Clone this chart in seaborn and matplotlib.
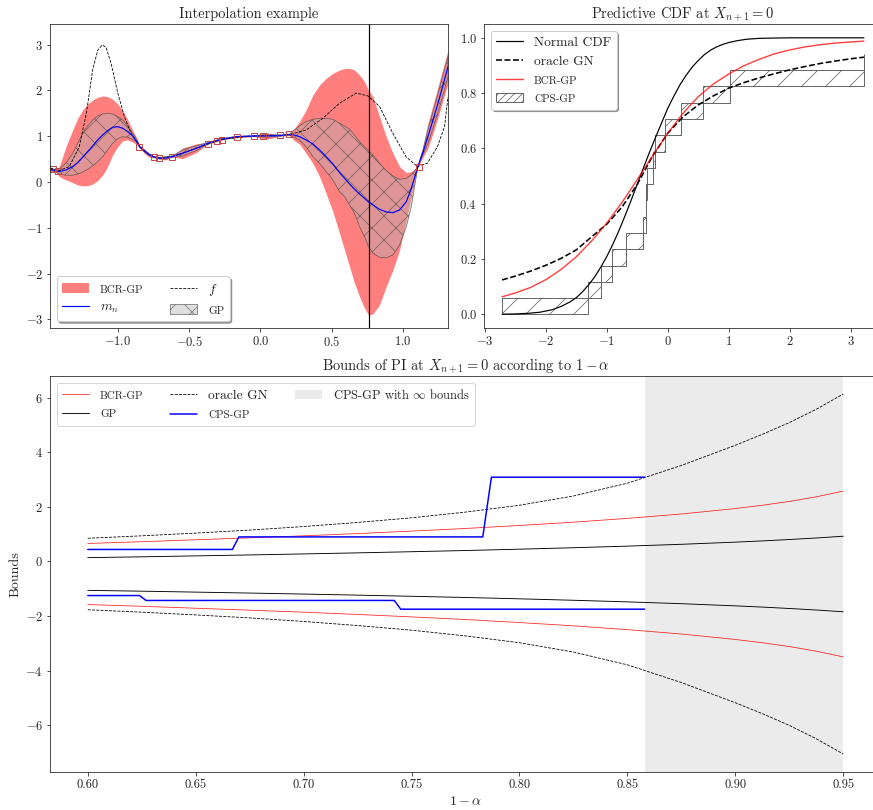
import seaborn as sns
import matplotlib.pyplot as plt
from matplotlib.lines import Line2D
from matplotlib.patches import Patch

# ---------------- top left: interpolation example ----------------
grid_x = [-1.475, -1.438, -1.410, -1.363, -1.316, -1.281, -1.246, -1.211, -1.176,
          -1.141, -1.106, -1.071, -1.036, -1.000, -0.965, -0.930, -0.895, -0.867,
          -0.844, -0.814, -0.778, -0.743, -0.708, -0.662, -0.619, -0.545, -0.451,
          -0.369, -0.276, -0.164, -0.042, 0.040, 0.138, 0.199, 0.238, 0.273, 0.320,
          0.367, 0.414, 0.460, 0.507, 0.554, 0.589, 0.624, 0.659, 0.694, 0.729,
          0.757, 0.788, 0.834, 0.881, 0.928, 0.975, 1.022, 1.057, 1.103, 1.138,
          1.173, 1.209, 1.244, 1.279, 1.314]
mean_n = [0.277, 0.247, 0.226, 0.262, 0.335, 0.422, 0.539, 0.662, 0.786,
          0.917, 1.026, 1.121, 1.194, 1.208, 1.172, 1.099, 1.004, 0.880,
          0.760, 0.677, 0.590, 0.539, 0.517, 0.524, 0.553, 0.626, 0.735,
          0.844, 0.932, 0.990, 1.004, 1.004, 1.012, 1.033, 1.026, 0.990, 0.917,
          0.830, 0.699, 0.553, 0.393, 0.204, 0.080, -0.044, -0.160, -0.262, -0.357,
          -0.437, -0.502, -0.597, -0.655, -0.670, -0.611, -0.429, -0.138, 0.335, 0.640,
          0.990, 1.354, 1.718, 2.118, 2.518]
gp_hi = [0.298, 0.269, 0.284, 0.408, 0.626, 0.844, 1.063, 1.223, 1.354,
         1.441, 1.485, 1.499, 1.485, 1.426, 1.354, 1.223, 1.063, 0.932,
         0.770, 0.699, 0.611, 0.546, 0.531, 0.553, 0.568, 0.699, 0.793,
         0.859, 0.946, 0.997, 1.012, 1.033, 1.019, 1.041, 1.135, 1.223, 1.317,
         1.368, 1.390, 1.390, 1.368, 1.281, 1.223, 1.150, 1.026, 0.881, 0.771,
         0.684, 0.590, 0.408, 0.247, 0.131, 0.058, 0.080, 0.153, 0.335, 0.699,
         1.135, 1.536, 1.921, 2.336, 2.737]
gp_lo = [0.255, 0.226, 0.175, 0.146, 0.146, 0.175, 0.218, 0.277, 0.349,
         0.444, 0.553, 0.699, 0.844, 0.946, 0.990, 0.975, 0.932, 0.873,
         0.750, 0.655, 0.568, 0.531, 0.502, 0.495, 0.539, 0.568, 0.684,
         0.830, 0.917, 0.983, 0.997, 0.975, 1.004, 1.026, 0.975, 0.917, 0.771,
         0.553, 0.408, 0.226, 0.044, -0.211, -0.320, -0.502, -0.684, -0.975, -1.194,
         -1.412, -1.557, -1.645, -1.659, -1.594, -1.376, -0.975, -0.539, 0.335, 0.590,
         0.844, 1.172, 1.514, 1.900, 2.300]
bcr_hi = [0.335, 0.277, 0.335, 0.771, 1.135, 1.390, 1.572, 1.703, 1.790,
          1.849, 1.878, 1.863, 1.805, 1.703, 1.557, 1.354, 1.121, 0.953,
          0.780, 0.713, 0.626, 0.546, 0.524, 0.568, 0.560, 0.742, 0.830,
          0.866, 0.953, 1.004, 1.019, 1.077, 1.026, 1.048, 1.172, 1.317, 1.572,
          1.900, 2.118, 2.263, 2.373, 2.445, 2.475, 2.482, 2.445, 2.336, 2.191,
          2.009, 1.863, 1.426, 0.990, 0.626, 0.335, 0.204, 0.226, 0.335, 0.771,
          1.281, 1.681, 2.082, 2.482, 2.882]
bcr_lo = [0.204, 0.218, 0.116, 0.044, -0.015, -0.066, -0.087, -0.080, -0.044,
          0.029, 0.153, 0.335, 0.590, 0.771, 0.902, 0.917, 0.873, 0.808,
          0.740, 0.626, 0.539, 0.531, 0.502, 0.480, 0.546, 0.509, 0.640,
          0.822, 0.910, 0.975, 0.990, 0.932, 0.997, 1.019, 0.902, 0.830, 0.626,
          0.408, 0.116, -0.247, -0.648, -1.121, -1.485, -1.849, -2.213, -2.504, -2.758,
          -2.904, -2.882, -2.686, -2.285, -1.921, -1.485, -0.830, -0.320, 0.335, 0.539,
          0.735, 1.063, 1.412, 1.790, 2.154]

f_x = [-1.475, -1.41, -1.34, -1.27, -1.22, -1.176, -1.14, -1.11, -1.082, -1.047,
       -1.0, -0.954, -0.907, -0.844, -0.778, -0.72, -0.619, -0.451, -0.276, -0.042,
       0.199, 0.32, 0.437, 0.554, 0.671, 0.753, 0.835, 0.928, 1.02, 1.10, 1.17,
       1.24, 1.29, 1.314]
f_vals = [0.30, 0.25, 0.335, 0.77, 1.50, 2.45, 2.88, 2.99, 2.94, 2.59,
          1.94, 1.43, 1.06, 0.77, 0.59, 0.524, 0.553, 0.735, 0.932, 1.004,
          1.033, 1.135, 1.39, 1.72, 1.94, 1.88, 1.645, 1.06, 0.55, 0.335, 0.41,
          0.77, 1.21, 1.86]

obs_x = [-1.457, -1.421, -0.849, -0.743, -0.713, -0.619, -0.370, -0.304, -0.271,
         -0.163, -0.042, 0.021, 0.138, 0.203, 1.108]
obs_y = [0.277, 0.247, 0.758, 0.539, 0.524, 0.539, 0.836, 0.895, 0.924,
         0.983, 1.004, 1.011, 1.020, 1.041, 0.334]
x_new = 0.757

# ---------------- top right: predictive CDF ----------------
normal_x = [-2.72, -2.5, -2.3, -2.1, -1.9, -1.75, -1.6, -1.5, -1.4, -1.3, -1.2, -1.1,
            -1.0, -0.9, -0.8, -0.7, -0.6, -0.5, -0.4, -0.3, -0.2, -0.1, 0.0, 0.1,
            0.2, 0.3, 0.4, 0.5, 0.6, 0.7, 0.8, 0.9, 1.0, 1.15, 1.3, 1.5, 1.7, 2.0, 3.22]
normal_cdf = [0.000, 0.001, 0.003, 0.007, 0.016, 0.028, 0.045, 0.060, 0.081, 0.106,
              0.135, 0.170, 0.209, 0.254, 0.303, 0.357, 0.413, 0.471, 0.529, 0.586,
              0.640, 0.693, 0.745, 0.789, 0.830, 0.864, 0.894, 0.918, 0.939, 0.955,
              0.967, 0.976, 0.983, 0.990, 0.995, 0.998, 0.999, 1.0, 1.0]
bcr_x = [-2.72, -2.5, -2.25, -2.0, -1.75, -1.5, -1.25, -1.0, -0.75, -0.5, -0.25, 0.0,
         0.25, 0.5, 0.75, 1.0, 1.25, 1.5, 1.75, 2.0, 2.25, 2.5, 2.75, 3.0, 3.22]
bcr_cdf = [0.063, 0.077, 0.097, 0.125, 0.162, 0.208, 0.265, 0.33, 0.405, 0.487, 0.573,
           0.655, 0.727, 0.787, 0.833, 0.869, 0.899, 0.922, 0.942, 0.956, 0.967,
           0.975, 0.981, 0.985, 0.988]
oracle_x = bcr_x
oracle_cdf = [0.124, 0.138, 0.156, 0.177, 0.202, 0.233, 0.280, 0.326, 0.388, 0.47,
              0.572, 0.655, 0.714, 0.757, 0.790, 0.818, 0.838, 0.855, 0.870, 0.884,
              0.896, 0.907, 0.916, 0.924, 0.930]
cps_edges = [-2.72, -1.31, -1.10, -0.91, -0.69, -0.40, -0.357, -0.35, -0.346,
             -0.236, -0.214, -0.049, 0.214, 0.571, 1.027, 3.22, 3.22]
cps_levels = [0.0, 0.059, 0.118, 0.176, 0.235, 0.294, 0.353, 0.412, 0.471,
              0.529, 0.588, 0.647, 0.706, 0.765, 0.824, 0.882, 0.941]

# ---------------- bottom: bounds of PI ----------------
level = [0.600, 0.625, 0.650, 0.675, 0.700, 0.725, 0.750, 0.775, 0.800, 0.825,
         0.850, 0.875, 0.900, 0.9125, 0.925, 0.9375, 0.950]
gp_upper = [0.140, 0.170, 0.204, 0.239, 0.276, 0.315, 0.357, 0.401, 0.450, 0.503,
            0.562, 0.629, 0.708, 0.753, 0.804, 0.860, 0.925]
gp_lower = [-1.060, -1.090, -1.124, -1.159, -1.196, -1.235, -1.277, -1.321, -1.370,
            -1.423, -1.482, -1.549, -1.628, -1.673, -1.724, -1.780, -1.845]
bcr_upper = [0.66, 0.724, 0.795, 0.866, 0.94, 1.023, 1.113, 1.209, 1.32, 1.44,
             1.58, 1.74, 1.94, 2.06, 2.20, 2.37, 2.58]
bcr_lower = [-1.58, -1.644, -1.715, -1.786, -1.86, -1.943, -2.033, -2.129, -2.24,
             -2.36, -2.50, -2.66, -2.86, -2.98, -3.12, -3.29, -3.50]
oracle_upper = [0.85, 0.94, 1.04, 1.15, 1.28, 1.43, 1.60, 1.81, 2.06, 2.40, 2.87,
                3.52, 4.26, 4.66, 5.09, 5.58, 6.14]
oracle_lower = [-1.77, -1.86, -1.96, -2.07, -2.20, -2.35, -2.52, -2.73, -2.98,
                -3.32, -3.79, -4.44, -5.18, -5.58, -6.01, -6.50, -7.06]
cps_up_level = [0.60, 0.667, 0.670, 0.783, 0.787, 0.858]
cps_upper = [0.44, 0.44, 0.90, 0.90, 3.09, 3.09]
cps_lo_level = [0.60, 0.624, 0.627, 0.742, 0.745, 0.858]
cps_lower = [-1.25, -1.25, -1.43, -1.43, -1.75, -1.75]
inf_span = (0.858, 0.95)

sns.set_style("ticks")
plt.rcParams['font.family'] = 'serif'
plt.rcParams['font.serif'] = ['cmr10']
plt.rcParams['mathtext.fontset'] = 'cm'
plt.rcParams['axes.formatter.use_mathtext'] = True
plt.rcParams['font.size'] = 13.5
plt.rcParams['xtick.labelsize'] = 12.5
plt.rcParams['ytick.labelsize'] = 12.5
plt.rcParams['xtick.major.size'] = 3.5
plt.rcParams['ytick.major.size'] = 3.5
plt.rcParams['hatch.linewidth'] = 0.7

W, H = 873, 810
fig = plt.figure(figsize=(W / 72, H / 72), dpi=72)
ax1 = fig.add_axes([50 / W, 1 - 328 / H, 398 / W, 304 / H])
ax2 = fig.add_axes([484 / W, 1 - 328 / H, 398 / W, 304 / H])
ax3 = fig.add_axes([50 / W, 1 - 772 / H, 831 / W, 396 / H])

SC = 11     # size for the small-caps style labels
TITLE = 14.5

# --- interpolation
gp_face = (0.71, 0.71, 0.71, 0.42)
gp_edge = (0.3, 0.3, 0.3, 0.75)
ax1.fill_between(grid_x, bcr_lo, bcr_hi, color='red', alpha=0.5, lw=0)
ax1.fill_between(grid_x, gp_lo, gp_hi, facecolor=gp_face, edgecolor=gp_edge,
                 hatch='x', lw=0.8)
sns.lineplot(x=f_x, y=f_vals, ax=ax1, color='k', lw=0.8, linestyle='--')
sns.lineplot(x=grid_x, y=mean_n, ax=ax1, color='blue', lw=1.2)
ax1.plot(obs_x, obs_y, 's', mfc='none', mec='#c24a4a', ms=6, mew=1)
ax1.axvline(x_new, color='k', lw=1.2)
ax1.set_xlim(-1.475, 1.314)
ax1.set_ylim(-3.19, 3.45)
ax1.set_xticks([-1.0, -0.5, 0.0, 0.5, 1.0])
ax1.set_yticks([-3, -2, -1, 0, 1, 2, 3])
ax1.set_title("Interpolation example", fontsize=TITLE)
h1 = [Patch(color='red', alpha=0.5, lw=0),
      Line2D([], [], color='blue', lw=1.2),
      Line2D([], [], color='k', lw=0.8, ls='--'),
      Patch(facecolor=gp_face, edgecolor=gp_edge, hatch='x', lw=0.8)]
leg1 = ax1.legend(h1, ["BCR-GP", "$m_n$", "$f$", "GP"], loc='lower left',
                  ncol=2, shadow=True)
for t in (leg1.get_texts()[0], leg1.get_texts()[3]):
    t.set_fontsize(SC)

# --- predictive CDF
widths = [b - a for a, b in zip(cps_edges[:-1], cps_edges[1:])]
heights = [b - a for a, b in zip(cps_levels[:-1], cps_levels[1:])]
ax2.bar(cps_edges[:-1], heights, width=widths, bottom=cps_levels[:-1], align='edge',
        fill=False, hatch='/', edgecolor='0.35', lw=0.9)
sns.lineplot(x=normal_x, y=normal_cdf, ax=ax2, color='k', lw=1.2)
sns.lineplot(x=oracle_x, y=oracle_cdf, ax=ax2, color='k', lw=1.6, linestyle='--')
sns.lineplot(x=bcr_x, y=bcr_cdf, ax=ax2, color='red', lw=1.4, alpha=0.75)
ax2.set_ylim(-0.05, 1.05)
ax2.set_xticks([-3, -2, -1, 0, 1, 2, 3])
ax2.set_title("Predictive CDF at $X_{n+1} = 0$", fontsize=TITLE)
h2 = [Line2D([], [], color='k', lw=1.2),
      Line2D([], [], color='k', lw=1.6, ls='--'),
      Line2D([], [], color='red', lw=1.4, alpha=0.75),
      Patch(fill=False, hatch='///', edgecolor='0.35', lw=0.9)]
leg2 = ax2.legend(h2, ["Normal CDF", "oracle GN", "BCR-GP", "CPS-GP"],
                  loc='upper left', shadow=True)
for t in leg2.get_texts()[2:]:
    t.set_fontsize(SC)

# --- bounds
ax3.axvspan(*inf_span, color='#ebebeb', lw=0)
for up, lo, kw in [(bcr_upper, bcr_lower, dict(color='red', lw=0.8, alpha=0.85)),
                   (gp_upper, gp_lower, dict(color='k', lw=0.9)),
                   (oracle_upper, oracle_lower, dict(color='k', lw=0.8, linestyle='--'))]:
    sns.lineplot(x=level, y=up, ax=ax3, **kw)
    sns.lineplot(x=level, y=lo, ax=ax3, **kw)
sns.lineplot(x=cps_up_level, y=cps_upper, ax=ax3, color='blue', lw=1.5)
sns.lineplot(x=cps_lo_level, y=cps_lower, ax=ax3, color='blue', lw=1.5)
ax3.set_xticks([0.60, 0.65, 0.70, 0.75, 0.80, 0.85, 0.90, 0.95])
ax3.set_xticklabels(["0.60", "0.65", "0.70", "0.75", "0.80", "0.85", "0.90", "0.95"])
ax3.set_yticks([-6, -4, -2, 0, 2, 4, 6])
ax3.set_title(r"Bounds of PI at $X_{n+1} = 0$ according to $1-\alpha$", fontsize=TITLE)
ax3.set_xlabel(r"$1-\alpha$", fontsize=14)
ax3.set_ylabel("Bounds", fontsize=14)
h3 = [Line2D([], [], color='red', lw=0.8, alpha=0.85),
      Line2D([], [], color='k', lw=0.9),
      Line2D([], [], color='k', lw=0.8, ls='--'),
      Line2D([], [], color='blue', lw=1.5),
      Patch(color='#ebebeb', lw=0)]
leg3 = ax3.legend(h3, ["BCR-GP", "GP", "oracle GN", "CPS-GP", r"CPS-GP with $\infty$ bounds"],
                  loc='upper left', ncol=3)
for i in (0, 1, 3):
    leg3.get_texts()[i].set_fontsize(SC)
leg3.get_texts()[4].set_fontsize(12.5)

fig.savefig("out.png", dpi=72)
